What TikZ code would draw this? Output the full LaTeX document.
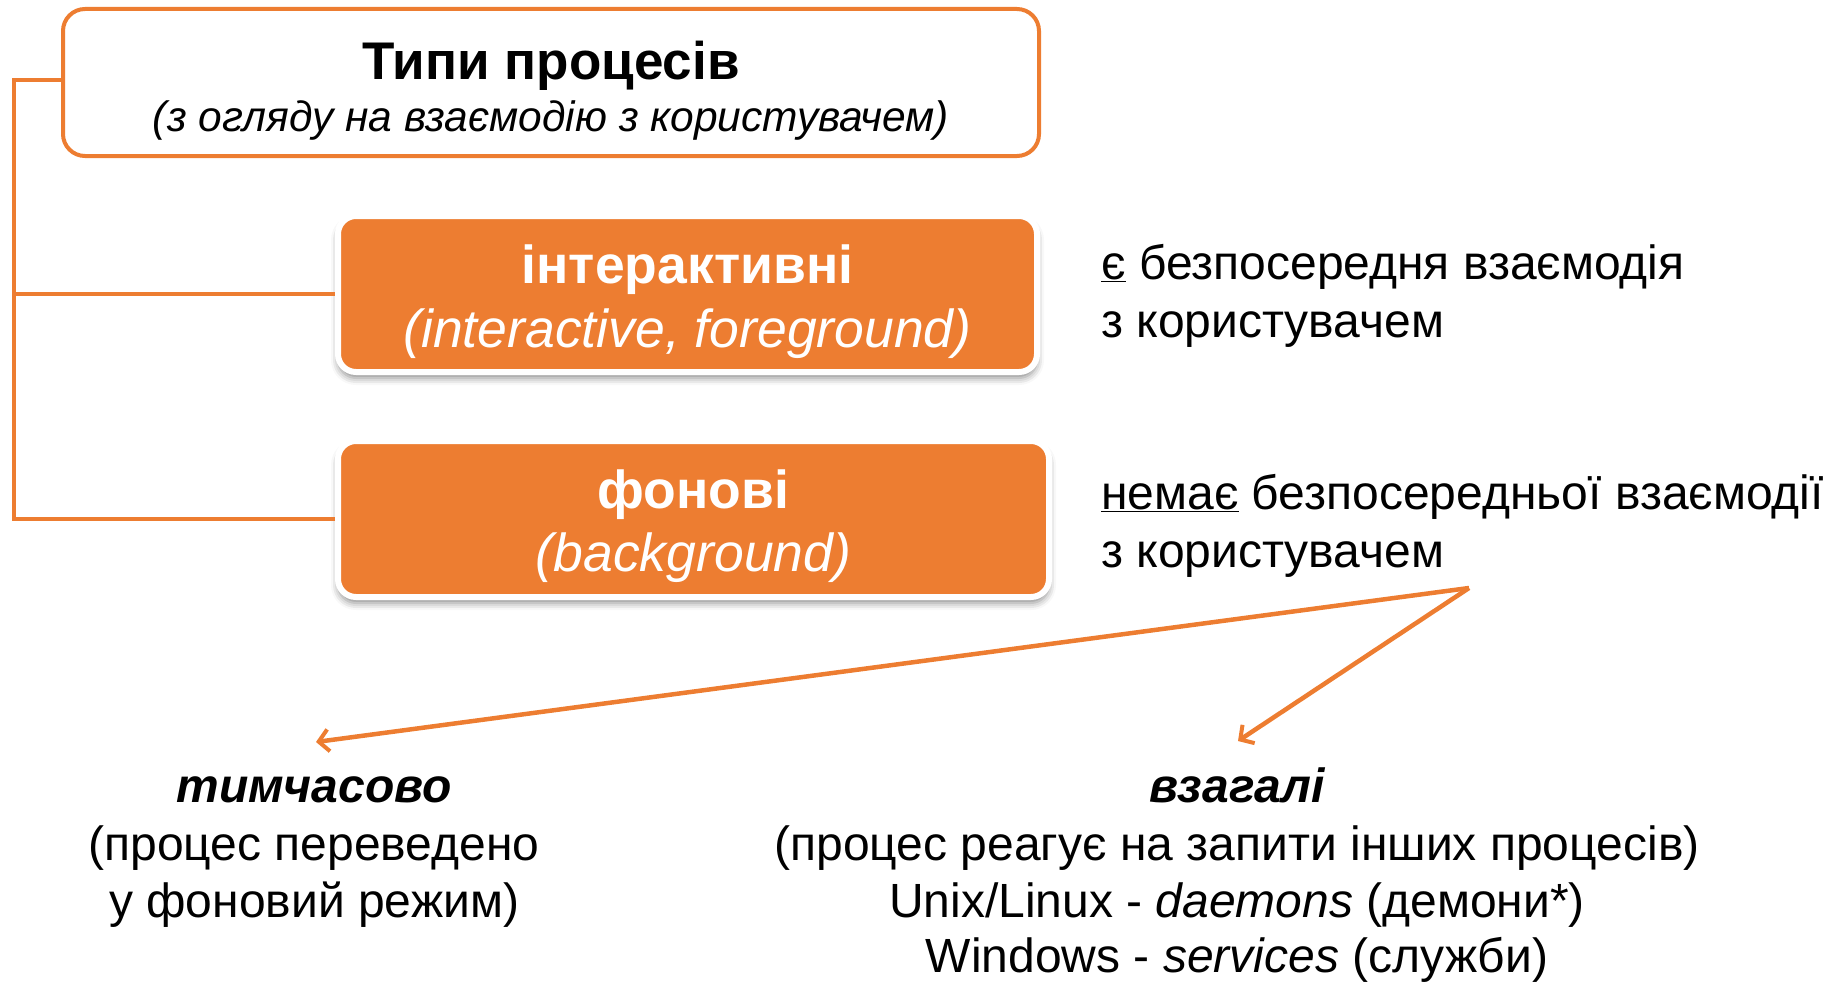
\documentclass[tikz,border=0pt]{standalone}
\usepackage{fontspec}
\setmainfont{Liberation Sans}
\usetikzlibrary{arrows.meta,shadows.blur}
\definecolor{accent}{HTML}{ED7D31}
\tikzset{
  conn/.style={draw=accent,line width=4.5pt},
  arr/.style={draw=accent,line width=4.5pt,-{Straight Barb[length=10pt,width=22pt,line width=4pt]}},
  headbox/.style={draw=accent,line width=4pt,fill=white,rounded corners=22pt,minimum width=976pt,minimum height=147pt,inner sep=0pt},
  typebox/.style={draw=white,line width=6pt,fill=accent,rounded corners=18pt,inner sep=0pt,
     blur shadow={shadow xshift=0pt,shadow yshift=-6pt,shadow blur radius=7pt,shadow opacity=45}},
  titletxt/.style={anchor=base,font=\fontsize{53}{63}\selectfont\bfseries,inner sep=0pt},
  subtxt/.style={anchor=base,font=\fontsize{42.5}{50}\selectfont\itshape,inner sep=0pt},
  boxtxt/.style={anchor=base,text=white,font=\fontsize{53.5}{64}\selectfont\bfseries,inner sep=0pt},
  boxsub/.style={anchor=base,text=white,font=\fontsize{53.5}{64}\selectfont\itshape,inner sep=0pt},
  body/.style={anchor=base west,font=\fontsize{48}{57}\selectfont,inner sep=0pt},
  bodyc/.style={anchor=base,font=\fontsize{48}{57}\selectfont,inner sep=0pt},
  bodyhead/.style={anchor=base,font=\fontsize{48}{57}\selectfont\bfseries\itshape,inner sep=0pt},
}
\begin{document}
\begin{tikzpicture}[x=1pt,y=-1pt]
\useasboundingbox (0,0) rectangle (1835,982);
% header box
\node[headbox] (top) at (551,82.5) {};
\node[titletxt] (title) at (551,79) {Типи процесів};
\node[subtxt] (subtitle) at (551,131) {(з огляду на взаємодію з користувачем)};
% type boxes
\node[typebox,minimum width=699pt,minimum height=156pt] (b2) at (687.5,294) {};
\node[boxtxt] (b2a) at (687.5,283) {інтерактивні};
\node[boxsub] (b2b) at (687.5,347) {(interactive, foreground)};
\node[typebox,minimum width=711pt,minimum height=156pt] (b3) at (693.5,519) {};
\node[boxtxt] (b3a) at (693.5,508) {фонові};
\node[boxsub] (b3b) at (693.5,571) {(background)};
% spine
\coordinate (sTop) at (14,80);
\draw[conn] (top.west |- sTop) -- (sTop) -- (sTop |- b3.west) -- (b3.west);
\draw[conn] (sTop |- b2.west) -- (b2.west);
% right texts
\node[body] (r1) at (1101,279) {\underline{є} безпосередня взаємодія};
\node[body] (r2) at (1101,337) {з користувачем};
\node[body] (r3) at (1101,509) {\underline{немає} безпосередньої взаємодії};
\node[body] (r4) at (1101,567) {з користувачем};
% arrows
\coordinate (fork) at (1469,588);
\coordinate (tipL) at (316,742);
\coordinate (tipR) at (1238,741);
\draw[arr] (fork) -- (tipL);
\draw[arr] (fork) -- (tipR);
% bottom texts
\node[bodyhead] (l1) at (314,802) {тимчасово};
\node[bodyc] (l2) at (314,860) {(процес переведено};
\node[bodyc] (l3) at (314,917) {у фоновий режим)};
\node[bodyhead] (m1) at (1237,802) {взагалі};
\node[bodyc] (m2) at (1237,860) {(процес реагує на запити інших процесів)};
\node[bodyc] (m3) at (1237,917) {Unix/Linux - \textit{daemons} (демони*)};
\node[bodyc] (m4) at (1237,972) {Windows - \textit{services} (служби)};
\end{tikzpicture}
\end{document}
